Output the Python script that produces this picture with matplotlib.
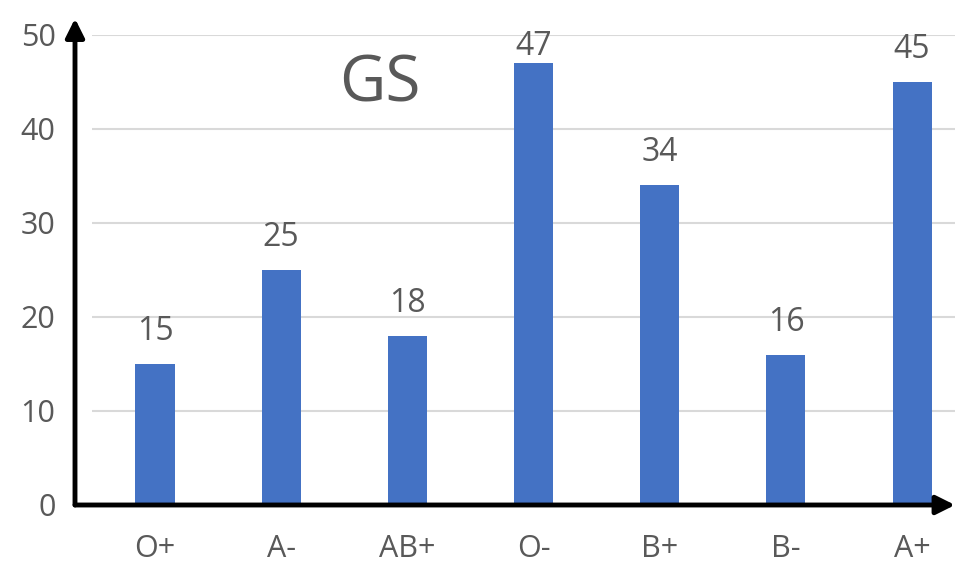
import matplotlib
matplotlib.use("Agg")
import matplotlib.pyplot as plt

categories = ["O+", "A-", "AB+", "O-", "B+", "B-", "A+"]
values = [15, 25, 18, 47, 34, 16, 45]
yticks = [0, 10, 20, 30, 40, 50]
title = "GS"

plt.rcParams['font.family'] = ['Open Sans', 'DejaVu Sans']
gray = "#595959"
bar_color = "#4472C4"

fig = plt.figure(figsize=(9.65, 5.75), dpi=100)
ax = fig.add_axes([75/965, 70/575, 880/965, 470/575])

x = list(range(len(categories)))
ax.bar(x, values, width=0.31, color=bar_color, zorder=3)
ax.set_xlim(-0.634, 6.34)
ax.set_ylim(0, 50)

for s in ax.spines.values():
    s.set_visible(False)

ax.hlines(yticks[1:], -0.5, 6.34, color="#d9d9d9", lw=1.5, zorder=1)

ax.set_yticks(yticks)
ax.set_yticklabels([str(t) for t in yticks], fontsize=22, color=gray)
ax.set_xticks(x)
ax.set_xticklabels(categories, fontsize=22, color=gray)
ax.tick_params(axis='y', length=0, pad=14)
ax.tick_params(axis='x', length=0, pad=21)

for xi, v in zip(x, values):
    ax.text(xi, min(v + 2.55, 47.9), str(v), ha='center', va='baseline',
            fontsize=23, color=gray, zorder=4)

ax.text(1.78, 44.7, title, ha='center', va='center', fontsize=46, color=gray)

# axes with arrows
ax.annotate("", xy=(1.0, 0), xytext=(0, 0), xycoords='axes fraction',
            arrowprops=dict(arrowstyle='-|>', lw=3.5, color='black',
                            mutation_scale=28, shrinkA=0, shrinkB=0),
            annotation_clip=False, zorder=5)
ax.annotate("", xy=(0, 1.035), xytext=(0, 0), xycoords='axes fraction',
            arrowprops=dict(arrowstyle='-|>', lw=3.5, color='black',
                            mutation_scale=28, shrinkA=0, shrinkB=0),
            annotation_clip=False, zorder=5)

fig.savefig("out.png", dpi=100)
